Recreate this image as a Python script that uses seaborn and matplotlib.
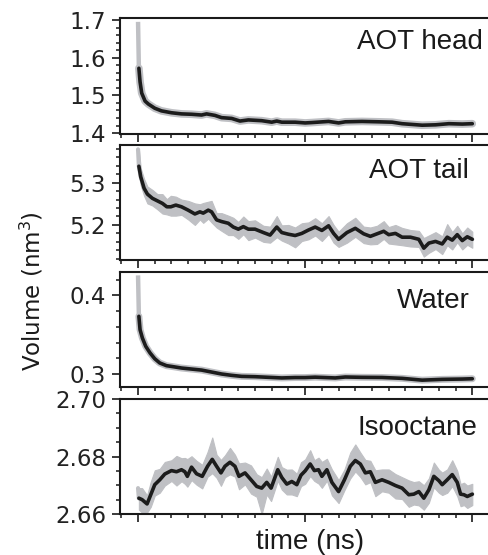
import numpy as np
import pandas as pd
import matplotlib
matplotlib.use("Agg")
import matplotlib.pyplot as plt
from matplotlib.ticker import MultipleLocator
import seaborn as sns

# ---------------- data ----------------
panel_names = ["AOT head", "AOT tail", "Water", "Isooctane"]

# AOT head
t_head = [0.05, 0.12, 0.22, 0.42, 0.62, 1.0, 1.4, 2.0, 2.6, 3.2, 3.8, 4.1, 4.6, 5.0, 5.6,
          6.1, 6.6, 7.4, 8.0, 8.3, 8.6, 9.4, 10.0, 10.4, 11.4, 12.0, 12.4, 13.4, 14.4,
          15.2, 15.8, 17.0, 17.8, 18.6, 19.4, 20.0]
avg_head = [1.572, 1.536, 1.506, 1.485, 1.477, 1.466, 1.459, 1.454, 1.451, 1.450, 1.448,
            1.451, 1.447, 1.441, 1.439, 1.432, 1.435, 1.433, 1.429, 1.432, 1.429, 1.429,
            1.427, 1.428, 1.431, 1.427, 1.430, 1.431, 1.430, 1.429, 1.425, 1.421, 1.422,
            1.425, 1.424, 1.425]
spike_head = [1.695, 1.572]

# AOT tail
t_tail = [0.05, 0.16, 0.36, 0.56, 0.86, 1.16, 1.46, 1.72, 1.96, 2.26, 2.6, 3.0, 3.4, 3.7,
          3.9, 4.2, 4.4, 4.7, 5.0, 5.4, 5.7, 6.0, 6.3, 6.6, 7.0, 7.5, 7.9, 8.3, 8.6, 9.0,
          9.4, 9.8, 10.2, 10.6, 11.0, 11.4, 11.7, 12.0, 12.5, 13.0, 13.5, 13.9, 14.3,
          14.7, 15.0, 15.4, 15.8, 16.3, 16.8, 17.1, 17.4, 17.8, 18.2, 18.5, 18.8, 19.1,
          19.4, 19.7, 20.0]
avg_tail = [5.339, 5.314, 5.287, 5.273, 5.263, 5.257, 5.251, 5.243, 5.243, 5.247, 5.243,
            5.235, 5.226, 5.231, 5.228, 5.235, 5.231, 5.212, 5.208, 5.204, 5.195, 5.190,
            5.196, 5.190, 5.190, 5.182, 5.176, 5.195, 5.182, 5.178, 5.175, 5.180, 5.188,
            5.195, 5.187, 5.198, 5.180, 5.166, 5.182, 5.192, 5.179, 5.173, 5.179, 5.185,
            5.177, 5.180, 5.171, 5.171, 5.166, 5.145, 5.157, 5.161, 5.155, 5.171, 5.164,
            5.177, 5.163, 5.172, 5.166]
spread_hi_tail = [0.040, 0.020, 0.022, 0.018, 0.020, 0.016, 0.022, 0.018, 0.026, 0.020,
                  0.017, 0.022, 0.025, 0.018, 0.024, 0.020, 0.026, 0.016, 0.020, 0.018,
                  0.022, 0.017, 0.024, 0.019, 0.021, 0.016, 0.020, 0.026, 0.017, 0.022,
                  0.019, 0.024, 0.018, 0.021, 0.017, 0.023, 0.020, 0.018, 0.022, 0.025,
                  0.017, 0.021, 0.019, 0.024, 0.018, 0.020, 0.022, 0.017, 0.020, 0.024,
                  0.018, 0.022, 0.018, 0.031, 0.019, 0.021, 0.017, 0.022, 0.018]
spread_lo_tail = [0.010, 0.020, 0.018, 0.022, 0.017, 0.020, 0.024, 0.018, 0.021, 0.025,
                  0.019, 0.022, 0.026, 0.018, 0.023, 0.020, 0.025, 0.018, 0.022, 0.028,
                  0.019, 0.023, 0.018, 0.026, 0.020, 0.022, 0.018, 0.024, 0.019, 0.022,
                  0.028, 0.018, 0.022, 0.020, 0.025, 0.019, 0.022, 0.018, 0.024, 0.020,
                  0.022, 0.019, 0.024, 0.018, 0.021, 0.026, 0.019, 0.022, 0.018, 0.020,
                  0.023, 0.018, 0.024, 0.019, 0.022, 0.018, 0.021, 0.019, 0.020]

# Water
t_water = [0.05, 0.12, 0.26, 0.46, 0.72, 1.0, 1.3, 1.7, 2.1, 2.6, 3.2, 3.8, 4.4, 5.0, 5.6,
           6.2, 7.0, 7.8, 8.6, 9.4, 10.0, 10.6, 11.8, 12.4, 13.4, 14.6, 15.8, 17.0, 18.2,
           19.4, 20.0]
avg_water = [0.3733, 0.3563, 0.3457, 0.3352, 0.3267, 0.3194, 0.3140, 0.3106, 0.3093,
             0.3076, 0.3063, 0.3050, 0.3025, 0.3000, 0.2983, 0.2970, 0.2966, 0.2958,
             0.2950, 0.2955, 0.2955, 0.2960, 0.2950, 0.2962, 0.2958, 0.2956, 0.2945,
             0.2922, 0.2932, 0.2936, 0.2940]
spike_water = [0.4253, 0.3733]

# Isooctane
t_iso = [0.05, 0.24, 0.54, 0.76, 1.0, 1.3, 1.6, 2.0, 2.3, 2.6, 2.8, 2.95, 3.2, 3.5, 3.84,
         4.16, 4.44, 4.7, 4.96, 5.2, 5.5, 5.8, 6.04, 6.4, 6.76, 7.1, 7.4, 7.7, 7.96, 8.36,
         8.6, 8.9, 9.2, 9.5, 9.75, 10.0, 10.3, 10.55, 10.8, 11.0, 11.3, 11.6, 12.0, 12.35,
         12.7, 13.0, 13.3, 13.6, 13.9, 14.2, 14.6, 15.0, 15.4, 15.8, 16.2, 16.5, 16.8,
         17.1, 17.4, 17.7, 18.0, 18.2, 18.5, 18.8, 19.1, 19.3, 19.5, 19.7, 20.0]
avg_iso = [2.6655, 2.6650, 2.6635, 2.6667, 2.6702, 2.6719, 2.6739, 2.6751, 2.6747, 2.6754,
           2.6747, 2.6731, 2.6763, 2.6740, 2.6731, 2.6766, 2.6790, 2.6766, 2.6743, 2.6766,
           2.6780, 2.6766, 2.6731, 2.6743, 2.6719, 2.6696, 2.6690, 2.6710, 2.6690, 2.6754,
           2.6727, 2.6704, 2.6713, 2.6702, 2.6735, 2.6750, 2.6774, 2.6751, 2.6754, 2.6731,
           2.6754, 2.6710, 2.6678, 2.6719, 2.6766, 2.6786, 2.6774, 2.6743, 2.6747, 2.6710,
           2.6719, 2.6710, 2.6699, 2.6690, 2.6667, 2.6669, 2.6678, 2.6655, 2.6684, 2.6731,
           2.6716, 2.6702, 2.6719, 2.6737, 2.6710, 2.6669, 2.6667, 2.6661, 2.6669]
spread_hi_iso = [0.0035, 0.0040, 0.0030, 0.0045, 0.0050, 0.0038, 0.0042, 0.0036, 0.0055, 0.0040,
                 0.0048, 0.0060, 0.0038, 0.0045, 0.0040, 0.0050, 0.0076, 0.0040, 0.0045, 0.0038,
                 0.0050, 0.0040, 0.0045, 0.0036, 0.0050, 0.0042, 0.0038, 0.0048, 0.0040, 0.0045,
                 0.0036, 0.0050, 0.0042, 0.0038, 0.0045, 0.0040, 0.0048, 0.0036, 0.0042, 0.0050,
                 0.0038, 0.0045, 0.0040, 0.0036, 0.0048, 0.0056, 0.0040, 0.0045, 0.0038, 0.0042,
                 0.0036, 0.0045, 0.0040, 0.0038, 0.0050, 0.0042, 0.0036, 0.0045, 0.0040, 0.0048,
                 0.0038, 0.0042, 0.0036, 0.0050, 0.0040, 0.0035, 0.0042, 0.0038, 0.0036]
spread_lo_iso = [0.0040, 0.0045, 0.0030, 0.0042, 0.0038, 0.0045, 0.0040, 0.0036, 0.0048, 0.0040,
                 0.0042, 0.0036, 0.0045, 0.0038, 0.0042, 0.0036, 0.0048, 0.0040, 0.0045, 0.0038,
                 0.0042, 0.0036, 0.0045, 0.0040, 0.0048, 0.0036, 0.0090, 0.0042, 0.0045, 0.0038,
                 0.0042, 0.0036, 0.0045, 0.0040, 0.0038, 0.0045, 0.0042, 0.0036, 0.0048, 0.0040,
                 0.0038, 0.0045, 0.0040, 0.0036, 0.0042, 0.0038, 0.0045, 0.0040, 0.0036, 0.0048,
                 0.0040, 0.0036, 0.0045, 0.0038, 0.0042, 0.0036, 0.0048, 0.0040, 0.0045, 0.0038,
                 0.0042, 0.0036, 0.0045, 0.0040, 0.0048, 0.0042, 0.0036, 0.0040, 0.0038]

ylims = [(1.399, 1.706), (5.117, 5.39), (0.2835, 0.4296), (2.66, 2.70)]
y_major = [0.1, 0.1, 0.1, 0.02]
y_minor = [0.02, 0.02, 0.02, 0.005]
y_fmt = ["%.1f", "%.1f", "%.1f", "%.2f"]

# ---------------- style ----------------
sns.set_style("ticks")
plt.rcParams["font.family"] = ["DejaVu Sans"]
BLACK = "#1c1c1c"
GRAY = "#bfc0c4"
LAB_FONT = ["Liberation Sans", "DejaVu Sans"]

fig = plt.figure(figsize=(4.89, 5.55), dpi=100)
W, H = 489.0, 555.0
left_px = 120.0
panels_px = [(17.7, 133.5), (144.7, 260.0), (272.0, 387.0), (399.0, 514.0)]
label_pos = [(483, 49.3), (469, 178), (470, 308), (477, 435)]

series = [
    (t_head, avg_head, None, None, spike_head, 5.5),
    (t_tail, avg_tail, spread_hi_tail, spread_lo_tail, None, 3.0),
    (t_water, avg_water, None, None, spike_water, 5.0),
    (t_iso, avg_iso, spread_hi_iso, spread_lo_iso, None, 3.0),
]

for i, (top, bot) in enumerate(panels_px):
    ax = fig.add_axes([left_px / W, 1 - bot / H, 1 - left_px / W, (bot - top) / H])
    t, avg, shi, slo, spike, glw = series[i]
    df = pd.DataFrame({"t": t, "v": avg})
    if shi is not None:
        hi = np.array(avg) + np.array(shi)
        lo = np.array(avg) - np.array(slo)
        ax.fill_between(t, lo, hi, color=GRAY, lw=0.8, edgecolor=GRAY, zorder=1)
        ax.plot([0.0, t[0]], [hi[0], avg[0]], color=GRAY, lw=3, zorder=1)
    if spike is not None:
        ax.plot([0.0, t[0]], spike, color=GRAY, lw=3.2, zorder=1, solid_capstyle="butt")
    sns.lineplot(data=df, x="t", y="v", ax=ax, color=GRAY, lw=glw, zorder=2)
    sns.lineplot(data=df, x="t", y="v", ax=ax, color=BLACK, lw=2.6, zorder=3)

    ax.set_xlim(-1.08, 21.0)
    ax.set_ylim(*ylims[i])
    ax.xaxis.set_major_locator(MultipleLocator(10))
    ax.xaxis.set_minor_locator(MultipleLocator(1))
    ax.yaxis.set_major_locator(MultipleLocator(y_major[i]))
    ax.yaxis.set_minor_locator(MultipleLocator(y_minor[i]))
    ax.yaxis.set_major_formatter(matplotlib.ticker.FormatStrFormatter(y_fmt[i]))
    ax.set_xticklabels([])
    ax.set_xlabel("")
    ax.set_ylabel("")
    ax.tick_params(axis="both", which="major", direction="out", length=5.5, width=1.2,
                   color="#1a1a1a", labelsize=16.5, pad=4.5, labelcolor="#222222")
    ax.tick_params(axis="both", which="minor", direction="out", length=3, width=1.1,
                   color="#1a1a1a")
    ax.tick_params(axis="x", labelbottom=False)
    for s in ["left", "bottom", "top"]:
        ax.spines[s].set_linewidth(1.5)
        ax.spines[s].set_color("#1a1a1a")
    ax.spines["right"].set_visible(False)

    lx, ly = label_pos[i]
    fig.text(lx / W, 1 - ly / H, panel_names[i], ha="right", va="baseline",
             fontsize=20, family=LAB_FONT, color="#1a1a1a")

fig.text(32 / W, 1 - 291 / H, "Volume (nm$^3$)", rotation=90, ha="center", va="center",
         fontsize=16.5, color="#1a1a1a")
fig.text(310 / W, 1 - 542 / H, "time (ns)", ha="center", va="center",
         fontsize=20, family=LAB_FONT, color="#1a1a1a")

fig.savefig("out.png", dpi=100)
